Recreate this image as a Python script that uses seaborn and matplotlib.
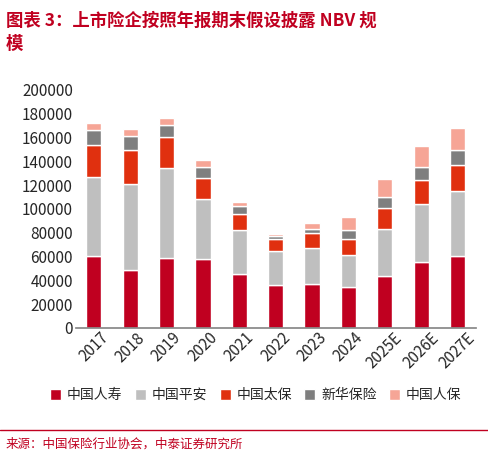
import matplotlib
matplotlib.use("Agg")
import matplotlib.pyplot as plt
import seaborn as sns
import pandas as pd
import numpy as np

sns.set_theme(style="white")
plt.rcParams['font.family'] = ['Noto Sans CJK SC', 'DejaVu Sans']

years = ["2017","2018","2019","2020","2021","2022","2023","2024","2025E","2026E","2027E"]
series = ["中国人寿","中国平安","中国太保","新华保险","中国人保"]
renshou = [60000,49000,59000,58000,45000,36000,37000,34000,44000,55000,60000]
pingan  = [67000,72000,75000,50000,37000,29000,30000,27000,39000,49000,55000]
taibao  = [27000,28000,26000,18000,14000,10000,13000,14000,18000,20000,22000]
xinhua  = [12000,12000,10000,9000,6000,2000,3000,7000,9000,11000,12000]
renbao  = [6000,6000,6000,6000,4000,2000,5000,11000,15000,18000,19000]
colors = ["#C00020","#BFBFBF","#E0300F","#7F7F7F","#F6A596"]

df = pd.DataFrame({"year": years, "中国人寿": renshou, "中国平安": pingan,
                   "中国太保": taibao, "新华保险": xinhua, "中国人保": renbao})

fig = plt.figure(figsize=(4.88, 4.58), dpi=100)
ax = fig.add_axes([0.155, 0.284, 0.82, 0.52])
bottom = np.zeros(len(years))
for s, c in zip(series, colors):
    sns.barplot(x=df["year"], y=df[s], bottom=bottom, color=c, ax=ax, width=0.42,
                label=s, saturation=1)
    bottom += df[s].values
ax.set_ylim(0, 200000)
ax.set_yticks(range(0, 200001, 20000))
ax.set_xlabel(""); ax.set_ylabel("")
for sp in ["top","right","left"]:
    ax.spines[sp].set_visible(False)
ax.spines["bottom"].set_color("#888888")
ax.tick_params(axis='y', labelsize=11, length=0, pad=2)
ax.tick_params(axis='x', labelsize=11, rotation=45, length=0, pad=1)
for t in ax.get_xticklabels():
    t.set_ha("center")
ax.legend(loc="upper center", bbox_to_anchor=(0.45, -0.2), ncol=5, frameon=False,
          fontsize=10, handlelength=0.8, handleheight=0.8, columnspacing=0.9, handletextpad=0.4)

fig.text(0.012, 0.975, "图表 3：上市险企按照年报期末假设披露 NBV 规\n模", color="#C00020",
         fontsize=12.5, fontweight="bold", style="italic", va="top", linespacing=1.4)
fig.add_artist(plt.Line2D([0.0, 1.0], [0.062, 0.062], color="#C00020", lw=1))
fig.text(0.012, 0.03, "来源：中国保险行业协会，中泰证券研究所", color="#C00020", fontsize=9, va="center")
fig.savefig("out.png", dpi=100)
